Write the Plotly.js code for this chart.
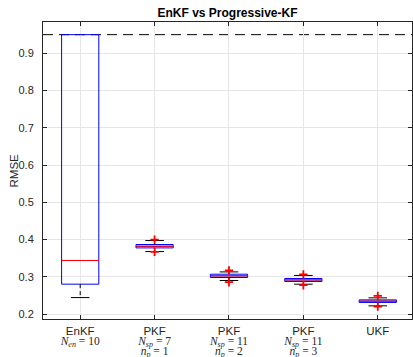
<!DOCTYPE html>
<html>
<head>
<meta charset="utf-8">
<script src="https://cdn.plot.ly/plotly-3.0.1.min.js"></script>
<style>html,body{margin:0;padding:0;background:#fff;}</style>
</head>
<body>
<div id="chart" style="width:413px;height:357px;"></div>
<script>
// ---- data ----
var positions = [1, 2, 3, 4, 5];
var tickLabels = [
  "<span style='font-size:11.5px'>EnKF</span><br><span style='font-family:Liberation Serif;font-size:11.5px'><i>N</i><sub><i>en</i></sub> = 10</span>",
  "<span style='font-size:11.5px'>PKF</span><br><span style='font-family:Liberation Serif;font-size:11.5px'><i>N</i><sub><i>sp</i></sub> = 7</span><br><span style='font-family:Liberation Serif;font-size:11.5px'><i>n</i><sub><i>p</i></sub> = 1</span>",
  "<span style='font-size:11.5px'>PKF</span><br><span style='font-family:Liberation Serif;font-size:11.5px'><i>N</i><sub><i>sp</i></sub> = 11</span><br><span style='font-family:Liberation Serif;font-size:11.5px'><i>n</i><sub><i>p</i></sub> = 2</span>",
  "<span style='font-size:11.5px'>PKF</span><br><span style='font-family:Liberation Serif;font-size:11.5px'><i>N</i><sub><i>sp</i></sub> = 11</span><br><span style='font-family:Liberation Serif;font-size:11.5px'><i>n</i><sub><i>p</i></sub> = 3</span>",
  "<span style='font-size:11.5px'>UKF</span>"
];
var q1Values       = [0.2805, 0.3778, 0.2984, 0.2877, 0.2314];
var medianValues   = [0.3440, 0.3822, 0.3027, 0.2917, 0.2349];
var q3Values       = [0.9500, 0.3869, 0.3072, 0.2957, 0.2383];
var lowerWhiskers  = [0.2445, 0.3680, 0.2903, 0.2804, 0.2223];
var upperWhiskers  = [0.9500, 0.3976, 0.3134, 0.3038, 0.2437];
var outlierX       = [2, 2, 3, 3, 4, 4, 5, 5];
var outlierY       = [0.4000, 0.3670, 0.3172, 0.2858, 0.3064, 0.2777, 0.2490, 0.2206];
var referenceLevel = 0.95;

// ---- derived traces ----
var boxW = 0.5, capW = 0.25;
var medX = [], medY = [], whX = [], whY = [], capX = [], capY = [];
positions.forEach(function (p, i) {
  medX.push(p - boxW / 2, p + boxW / 2, null);
  medY.push(medianValues[i], medianValues[i], null);
  if (lowerWhiskers[i] < q1Values[i]) {
    whX.push(p, p, null); whY.push(q1Values[i], lowerWhiskers[i], null);
  }
  if (upperWhiskers[i] > q3Values[i]) {
    whX.push(p, p, null); whY.push(q3Values[i], upperWhiskers[i], null);
  }
  capX.push(p - capW / 2, p + capW / 2, null);
  capY.push(lowerWhiskers[i], lowerWhiskers[i], null);
  if (upperWhiskers[i] > q3Values[i]) {
    capX.push(p - capW / 2, p + capW / 2, null);
    capY.push(upperWhiskers[i], upperWhiskers[i], null);
  }
});

var traces = [
  {
    type: 'scatter', mode: 'lines', x: whX, y: whY,
    line: {color: '#000000', width: 1, dash: '4px,3px'}, hoverinfo: 'skip', showlegend: false
  },
  {
    type: 'scatter', mode: 'lines', x: capX, y: capY,
    line: {color: '#000000', width: 1}, hoverinfo: 'skip', showlegend: false
  },
  {
    type: 'box', x: positions, q1: q1Values, median: medianValues, q3: q3Values,
    lowerfence: q1Values, upperfence: q3Values,
    width: boxW, boxpoints: false, whiskerwidth: 0,
    line: {color: '#0000ff', width: 1}, fillcolor: 'rgba(0,0,0,0)',
    hoverinfo: 'skip', showlegend: false
  },
  {
    type: 'scatter', mode: 'lines', x: medX, y: medY,
    line: {color: '#ff0000', width: 1}, hoverinfo: 'skip', showlegend: false
  },
  {
    type: 'scatter', mode: 'markers', x: outlierX, y: outlierY,
    marker: {symbol: 'cross-thin', size: 6, color: '#ff0000', line: {color: '#ff0000', width: 1.8}},
    hoverinfo: 'skip', showlegend: false
  }
];

var axisCommon = {
  showline: true, linecolor: '#262626', linewidth: 1, mirror: 'ticks',
  ticks: 'inside', ticklen: 4, tickcolor: '#262626', tickwidth: 1,
  showgrid: true, gridcolor: '#e6e6e6', gridwidth: 1, zeroline: false,
  tickfont: {family: 'Liberation Sans, Arial, sans-serif', size: 11, color: '#262626'}
};

var layout = {
  width: 413, height: 357,
  margin: {l: 43, r: 1, t: 22, b: 38},
  paper_bgcolor: '#ffffff', plot_bgcolor: '#ffffff',
  showlegend: false,
  title: {
    text: '<b>EnKF vs Progressive-KF</b>',
    font: {family: 'Liberation Sans, Arial, sans-serif', size: 12, color: '#000000'},
    xref: 'paper', x: 0.5, xanchor: 'center',
    yref: 'container', y: 1 - 12.5 / 357, yanchor: 'middle'
  },
  xaxis: Object.assign({}, axisCommon, {
    range: [0.5, 5.46], tickmode: 'array', tickvals: positions, ticktext: tickLabels,
    tickfont: {family: 'Liberation Sans, Arial, sans-serif', size: 7.6, color: '#262626'},
    ticklabelstandoff: 6
  }),
  yaxis: Object.assign({}, axisCommon, {
    range: [0.187, 0.984], tickmode: 'linear', tick0: 0.2, dtick: 0.1, tickformat: '.1f',
    ticklabelstandoff: 6
  }),
  annotations: [{
    text: 'RMSE', textangle: -90, showarrow: false,
    xref: 'paper', x: (13 - 43) / 369, xanchor: 'center',
    yref: 'paper', y: 0.5, yanchor: 'middle',
    font: {family: 'Liberation Sans, Arial, sans-serif', size: 11.5, color: '#262626'}
  }],
  shapes: [{
    type: 'line', xref: 'paper', x0: 0, x1: 1, yref: 'y', y0: referenceLevel, y1: referenceLevel,
    line: {color: '#000000', width: 1, dash: '10px,6px'}, layer: 'between'
  }]
};

Plotly.newPlot('chart', traces, layout, {displayModeBar: false, staticPlot: true});
</script>
</body>
</html>
